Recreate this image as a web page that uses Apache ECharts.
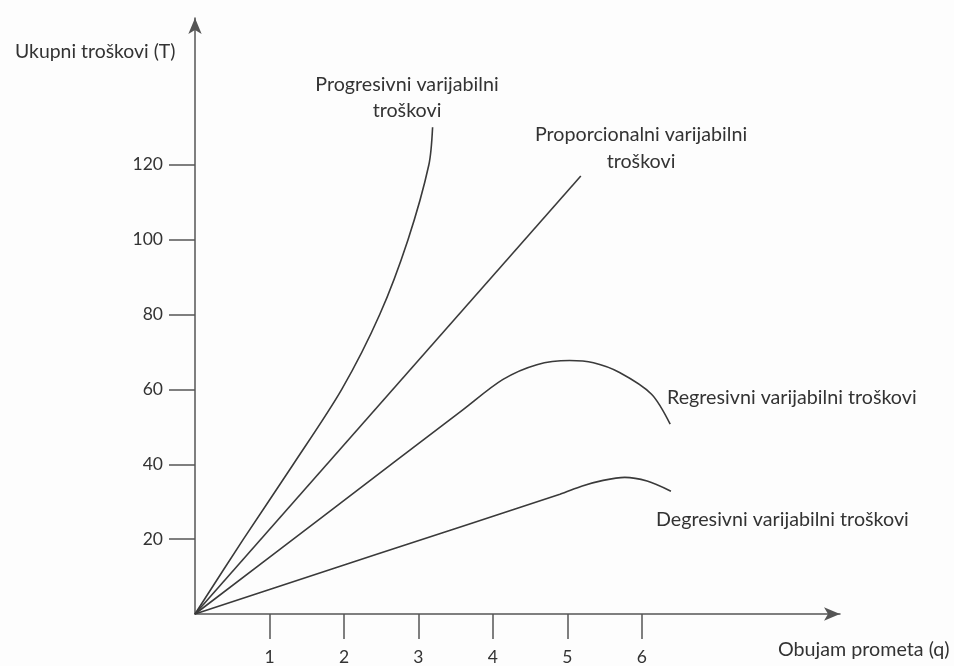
<!DOCTYPE html>
<html>
<head>
<meta charset="utf-8">
<script src="https://cdn.jsdelivr.net/npm/echarts@6/dist/echarts.min.js"></script>
<style>
html,body{margin:0;padding:0;background:#fdfdfd;}
#chart{width:954px;height:666px;}
</style>
</head>
<body>
<div id="chart"></div>
<script>
// Tick labels
const xTicks = [1, 2, 3, 4, 5, 6];
const yTicks = [20, 40, 60, 80, 100, 120];
// Series values [q, T]
const progressive = [[0,0],[0.65,20],[1.32,40],[1.97,60],[2.48,80],[2.86,100],[3.14,120],[3.19,130]];
const proportional = [[0,0],[5.18,117]];
const regressive = [[0,0],[1.8,27.3],[3.6,54.6],[4.13,62.6],[4.59,66.6],[5.03,67.7],[5.35,67.1],[5.70,64.5],[6.13,58.7],[6.38,50.7]];
const degressive = [[0,0],[2.45,16],[4.9,32],[5.2,34.2],[5.48,35.7],[5.77,36.5],[6.07,35.5],[6.39,32.8]];
// Texts
const yTitle = 'Ukupni troškovi (T)';
const xTitle = 'Obujam prometa (q)';
const labels = {
  progressive: ['Progresivni varijabilni', 'troškovi'],
  proportional: ['Proporcionalni varijabilni', 'troškovi'],
  regressive: 'Regresivni varijabilni troškovi',
  degressive: 'Degresivni varijabilni troškovi'
};

const FONT = 'Lato';
const TXT = '#333';
const AX = '#555';
const LINE = '#3a3a3a';

const chart = echarts.init(document.getElementById('chart'), null, {renderer: 'canvas'});

function lineSeries(name, data, smooth) {
  return {
    name, type: 'line', data,
    showSymbol: false, silent: true,
    smooth: smooth,
    lineStyle: {color: LINE, width: 1.6},
    animation: false
  };
}
function txt(text, x, y, align, size) {
  return {type: 'text', x, y, style: {text, textAlign: align || 'left', textVerticalAlign: 'middle',
    font: (size || 19.7) + 'px ' + FONT, fill: TXT}};
}

chart.setOption({
  backgroundColor: '#fdfdfd',
  animation: false,
  grid: {left: 195, right: 114, top: 18, bottom: 51},
  xAxis: {
    type: 'value', min: 0, max: 8.66,
    axisLine: {show: true, onZero: false, symbol: ['none', 'arrow'], symbolSize: [10, 16],
      lineStyle: {color: AX, width: 1.5}},
    axisTick: {show: true, length: 25, customValues: xTicks, lineStyle: {color: AX, width: 1.5}},
    axisLabel: {customValues: xTicks, margin: 34, fontSize: 17.5, fontFamily: FONT, color: TXT},
    splitLine: {show: false}
  },
  yAxis: {
    type: 'value', min: 0, max: 159.2,
    axisLine: {show: true, onZero: false, symbol: ['none', 'arrow'], symbolSize: [10, 16],
      lineStyle: {color: AX, width: 1.5}},
    axisTick: {show: true, length: 26, customValues: yTicks, lineStyle: {color: AX, width: 1.5}},
    axisLabel: {customValues: yTicks, margin: 32, fontSize: 17.5, fontFamily: FONT, color: TXT},
    splitLine: {show: false}
  },
  series: [
    lineSeries('Progresivni', progressive, 0.3),
    lineSeries('Proporcionalni', proportional, false),
    lineSeries('Regresivni', regressive, 0.3),
    lineSeries('Degresivni', degressive, 0.3)
  ],
  graphic: [
    txt(yTitle, 15, 52, 'left', 19.4),
    txt(xTitle, 778, 650, 'left', 19.7),
    txt(labels.progressive[0], 407, 85, 'center'),
    txt(labels.progressive[1], 407, 111, 'center'),
    txt(labels.proportional[0], 641, 135, 'center'),
    txt(labels.proportional[1], 641, 162, 'center'),
    txt(labels.regressive, 667, 398),
    txt(labels.degressive, 656, 520)
  ]
});
</script>
</body>
</html>
